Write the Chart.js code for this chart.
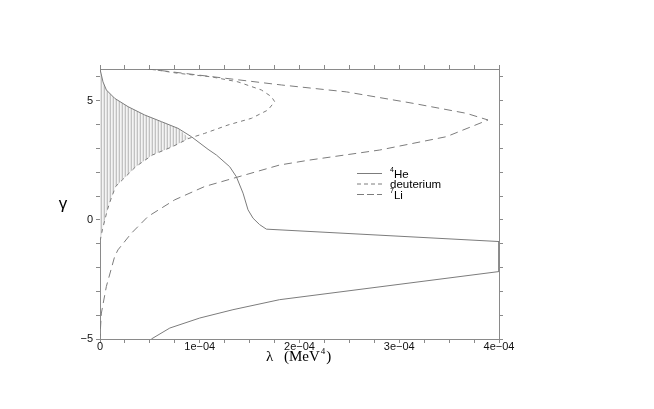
<!DOCTYPE html>
<html>
<head>
<meta charset="utf-8">
<script src="https://cdn.jsdelivr.net/npm/chart.js@4/dist/chart.umd.min.js"></script>
<style>
  html, body { margin: 0; padding: 0; background: #fff; }
  #wrap { width: 654px; height: 409px; }
</style>
</head>
<body>
<div id="wrap"><canvas id="bbnChart"></canvas></div>
<script>
// lambda values are in units of 1e-4 MeV^4
const LAMBDA_UNIT = 1e-4;

// 4He contour (traced in order)
const heLambda = [0, 0.03, 0.064, 0.147, 0.281, 0.448, 0.616, 0.782, 0.916, 1.083, 1.167, 1.30, 1.367, 1.434, 1.484, 1.534, 1.60, 1.668, 4.0, 4.0, 1.80, 1.333, 1.0, 0.70, 0.515];
const heGamma  = [6.33, 5.79, 5.45, 5.10, 4.75, 4.40, 4.12, 3.84, 3.49, 2.96, 2.72, 2.23, 1.81, 1.12, 0.42, 0.07, -0.20, -0.39, -0.91, -2.17, -3.35, -3.77, -4.12, -4.54, -5.0];

// deuterium contour
const dLambda = [0.499, 0.782, 1.117, 1.383, 1.618, 1.718, 1.751, 1.684, 1.518, 1.283, 1.050, 0.892, 0.726, 0.525, 0.358, 0.225, 0.157, 0.107, 0.074, 0.024, 0];
const dGamma  = [6.33, 6.15, 6.00, 5.79, 5.45, 5.17, 4.96, 4.61, 4.26, 3.98, 3.63, 3.42, 3.07, 2.72, 2.23, 1.68, 1.40, 0.84, 0.42, -0.42, -0.91];

// 7Li contour
const liLambda = [0.48, 1.818, 2.47, 3.138, 3.673, 3.89, 3.473, 2.804, 2.102, 1.80, 1.05, 0.749, 0.481, 0.315, 0.18, 0.147, 0.064, 0.014, 0];
const liGamma  = [6.33, 5.66, 5.37, 4.89, 4.47, 4.19, 3.49, 2.93, 2.51, 2.30, 1.40, 0.84, 0.14, -0.56, -1.26, -1.54, -2.79, -3.91, -4.89];

const seriesNames = ['He', 'deuterium', 'Li'];
const seriesSup = ['4', '', '7'];

const xMin = 0, xMax = 4;          // in LAMBDA_UNIT
const yMin = -5, yMax = 6.33;
const xMinorStep = 0.25, yMinorStep = 1;
const xTickLabels = ['0', '1e\u221204', '2e\u221204', '3e\u221204', '4e\u221204'];
const yTickValues = [-5, 0, 5];
const yTickLabels = ['\u22125', '0', '5'];

function toPoints(lx, gy) {
    return lx.map((v, i) => ({ x: v * LAMBDA_UNIT, y: gy[i] }));
}

const hePts = toPoints(heLambda, heGamma);
const dPts = toPoints(dLambda, dGamma);
const liPts = toPoints(liLambda, liGamma);
// allowed region: under the 4He curve, above the lower deuterium branch
const shadePts = hePts.slice(0, 8).concat(dPts.slice(11));

// vertical hatching pattern
function makeHatch(ctx) {
    const c = document.createElement('canvas');
    c.width = 3; c.height = 4;
    const p = c.getContext('2d');
    p.fillStyle = '#f4f4f4'; p.fillRect(0, 0, 3, 4);
    p.fillStyle = '#e4e4e4'; p.fillRect(1, 0, 1, 4);
    p.fillStyle = '#c2c2c2'; p.fillRect(2, 0, 1, 4);
    return ctx.createPattern(c, 'repeat');
}

const lineColor = '#7c7c7c';
const axisColor = '#8a8a8a';

function minorTicks(min, max, step) {
    const out = [];
    const n = Math.round((max - min) / step);
    for (let i = 0; i <= n; i++) out.push(min + i * step);
    return out;
}
const xTicks = minorTicks(xMin, xMax, xMinorStep).map(v => v * LAMBDA_UNIT);
const yTicks = minorTicks(yMin, Math.floor(yMax), yMinorStep);

function xLabel(v) {
    const k = v / LAMBDA_UNIT;
    const r = Math.round(k);
    return Math.abs(k - r) < 1e-6 ? xTickLabels[r] : '';
}
function yLabel(v) {
    const i = yTickValues.indexOf(Math.round(v));
    return (i >= 0 && Math.abs(v - Math.round(v)) < 1e-6) ? yTickLabels[i] : '';
}

function axisBase(ticksArr, fit) {
    return {
        type: 'linear',
        grid: { drawOnChartArea: false, drawTicks: true, tickLength: 4, color: axisColor, lineWidth: 1 },
        border: { display: true, color: axisColor, width: 1 },
        afterBuildTicks: s => { s.ticks = ticksArr.map(v => ({ value: v })); },
        afterFit: fit
    };
}

// axis titles and legend
const decorPlugin = {
    id: 'decor',
    afterDraw(chart) {
        const ctx = chart.ctx;
        const a = chart.chartArea;
        ctx.save();
        ctx.fillStyle = '#000';
        ctx.textBaseline = 'alphabetic';

        // y title
        ctx.font = '17px "Liberation Sans", Arial, sans-serif';
        ctx.textAlign = 'center';
        ctx.fillText('\u03b3', 63, 209);

        // x title: λ (MeV^4)
        ctx.textAlign = 'left';
        ctx.font = '15px "Liberation Serif", "Times New Roman", serif';
        ctx.fillText('\u03bb', 266, 361);
        const t1 = '(MeV';
        ctx.fillText(t1, 284, 361);
        let w = ctx.measureText(t1).width;
        ctx.font = '9px "Liberation Serif", serif';
        ctx.fillText('4', 284 + w + 1, 354);
        const w4 = ctx.measureText('4').width;
        ctx.font = '15px "Liberation Serif", "Times New Roman", serif';
        ctx.fillText(')', 284 + w + w4 + 2, 361);

        // legend
        const lx = a.left + 257, ly = a.top + 104, row = 10.5;
        const dashes = [[], [4, 3], [7, 3]];
        chart.data.datasets.slice(0, 3).forEach((ds, i) => {
            const y = ly + i * row;
            ctx.strokeStyle = lineColor;
            ctx.lineWidth = 1;
            ctx.setLineDash(dashes[i]);
            ctx.beginPath();
            ctx.moveTo(lx, y + 0.5);
            ctx.lineTo(lx + 25, y + 0.5);
            ctx.stroke();
            ctx.setLineDash([]);
            let tx = lx + 33;
            if (seriesSup[i]) {
                ctx.font = '7px "Liberation Sans", Arial, sans-serif';
                ctx.fillText(seriesSup[i], tx, y - 1);
                tx += ctx.measureText(seriesSup[i]).width;
            }
            ctx.font = '11.5px "Liberation Sans", Arial, sans-serif';
            ctx.fillText(seriesNames[i], tx, y + 4.5);
        });
        ctx.restore();
    }
};

const canvas = document.getElementById('bbnChart');
const ctx0 = canvas.getContext('2d');

const chart = new Chart(canvas, {
    type: 'scatter',
    data: {
        datasets: [
            { label: 'He', data: hePts, showLine: true, borderColor: lineColor, borderWidth: 1, pointRadius: 0, tension: 0, order: 1 },
            { label: 'deuterium', data: dPts, showLine: true, borderColor: lineColor, borderWidth: 1, borderDash: [4, 4], pointRadius: 0, tension: 0, order: 2 },
            { label: 'Li', data: liPts, showLine: true, borderColor: lineColor, borderWidth: 1, borderDash: [8, 5], pointRadius: 0, tension: 0, order: 3 },
            { label: 'allowed', data: shadePts, showLine: true, borderWidth: 0, borderColor: 'rgba(0,0,0,0)', backgroundColor: makeHatch(ctx0), fill: 'shape', pointRadius: 0, tension: 0, order: 10 }
        ]
    },
    options: {
        responsive: true,
        maintainAspectRatio: false,
        animation: false,
        layout: { padding: 0 },
        plugins: { legend: { display: false }, tooltip: { enabled: false } },
        scales: {
            x: Object.assign(axisBase(xTicks, s => { s.height = 70; }), {
                position: 'bottom', min: xMin * LAMBDA_UNIT, max: xMax * LAMBDA_UNIT,
                ticks: { autoSkip: false, maxRotation: 0, padding: -3, color: '#111',
                    font: { family: '"Liberation Sans", Arial, sans-serif', size: 11 },
                    callback: v => xLabel(v) }
            }),
            x2: Object.assign(axisBase(xTicks, s => { s.height = 69; }), {
                position: 'top', min: xMin * LAMBDA_UNIT, max: xMax * LAMBDA_UNIT,
                ticks: { display: false }
            }),
            y: Object.assign(axisBase(yTicks, s => { s.width = 100; }), {
                position: 'left', min: yMin, max: yMax,
                ticks: { autoSkip: false, padding: 3, color: '#111',
                    font: { family: '"Liberation Sans", Arial, sans-serif', size: 11 },
                    callback: v => yLabel(v) }
            }),
            y2: Object.assign(axisBase(yTicks, s => { s.width = 155; }), {
                position: 'right', min: yMin, max: yMax,
                ticks: { display: false }
            })
        }
    },
    plugins: [decorPlugin]
});
</script>
</body>
</html>
